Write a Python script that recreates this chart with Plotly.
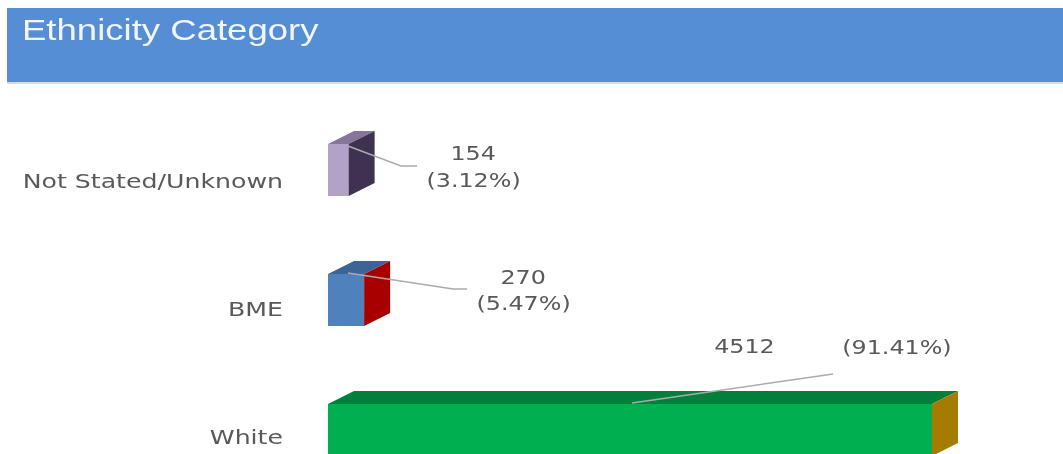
import plotly.graph_objects as go

# ---- data ----
categories = ["Not Stated/Unknown", "BME", "White"]
counts = [154, 270, 4512]
shares = ["(3.12%)", "(5.47%)", "(91.41%)"]

front_colors = ["#B3A2C7", "#4F81BD", "#00B050"]
top_colors = ["#85769A", "#3C6496", "#00803A"]
side_colors = ["#3F3151", "#A80000", "#A67C00"]

# ---- layout constants (pixels of the 1063x454 page) ----
W, H = 1063, 454
X0_PX = 328
PX_PER_UNIT = 604 / 4512
BAND_PX = 130
FIRST_CENTER_PX = 170
BAR_PX = 52
DEPTH_X_PX, DEPTH_Y_PX = 26, 13
TEXT = "#595959"
LEADER = "#ABABAB"
LABEL_FONT = dict(family="DejaVu Sans", size=20, color=TEXT)

depth_x = DEPTH_X_PX / PX_PER_UNIT
depth_y = DEPTH_Y_PX / BAND_PX
half = BAR_PX / BAND_PX / 2


def px(x):
    return x / W


def py(y):
    return 1 - y / H


positions = list(range(len(categories)))
fig = go.Figure()

fig.add_trace(go.Bar(
    y=positions, x=counts, base=0, orientation="h", width=BAR_PX / BAND_PX,
    marker=dict(color=front_colors, line=dict(width=0)), hoverinfo="skip",
))

for pos, val, top, side in zip(positions, counts, top_colors, side_colors):
    yt, yb = pos - half, pos + half
    fig.add_trace(go.Scatter(
        x=[0, val, val + depth_x, depth_x, 0],
        y=[yt, yt, yt - depth_y, yt - depth_y, yt],
        fill="toself", fillcolor=top, mode="lines", line=dict(width=0), hoverinfo="skip",
    ))
    fig.add_trace(go.Scatter(
        x=[val, val + depth_x, val + depth_x, val, val],
        y=[yt, yt - depth_y, yb - depth_y, yb, yt],
        fill="toself", fillcolor=side, mode="lines", line=dict(width=0), hoverinfo="skip",
    ))

leaders = [
    [(348, 146), (401, 166), (417, 166)],
    [(348, 273), (453, 289), (467, 289)],
    [(632, 403), (833, 374)],
]
shapes = [
    dict(type="rect", xref="paper", yref="paper", x0=px(7), x1=1, y0=py(84), y1=py(82),
         fillcolor="#D9D9D9", line=dict(width=0), layer="below"),
    dict(type="rect", xref="paper", yref="paper", x0=px(7), x1=1, y0=py(82), y1=py(8),
         fillcolor="#558ED5", line=dict(width=0), layer="below"),
]
for pts in leaders:
    path = "M " + " L ".join(f"{px(x):.5f},{py(y):.5f}" for x, y in pts)
    shapes.append(dict(type="path", xref="paper", yref="paper", path=path,
                       line=dict(color=LEADER, width=1.5), layer="above"))

label_spots = [
    (473, 153, str(counts[0])), (473, 180, shares[0]),
    (523, 277, str(counts[1])), (523, 303, shares[1]),
    (744, 346, str(counts[2])), (897, 347, shares[2]),
]
annotations = [
    dict(xref="paper", yref="paper", x=px(x), y=py(y), text=t, showarrow=False,
         xanchor="center", yanchor="middle", font=LABEL_FONT)
    for x, y, t in label_spots
]

# tick labels sit slightly below each bar's centre in the reference
tick_px = [181, 309, 437]
tickvals = [(y - FIRST_CENTER_PX) / BAND_PX for y in tick_px]

fig.update_layout(
    width=W, height=H, autosize=False,
    margin=dict(l=0, r=0, t=0, b=0, pad=0),
    paper_bgcolor="white", plot_bgcolor="rgba(0,0,0,0)",
    showlegend=False,
    title=dict(text="Ethnicity Category", x=px(22), xref="paper", xanchor="left",
               y=py(30), yref="paper", yanchor="middle",
               font=dict(family="Liberation Sans", size=29, color="#F2F6FC")),
    xaxis=dict(visible=False, range=[-X0_PX / PX_PER_UNIT, (W - X0_PX) / PX_PER_UNIT],
               domain=[0, 1], fixedrange=True),
    yaxis=dict(range=[(H - FIRST_CENTER_PX) / BAND_PX, -FIRST_CENTER_PX / BAND_PX],
               domain=[0, 1], anchor="free", position=px(283), side="left",
               tickvals=tickvals, ticktext=categories, tickfont=LABEL_FONT,
               showgrid=False, zeroline=False, showline=False, ticks="", fixedrange=True),
    shapes=shapes, annotations=annotations,
)

# The reference is a horizontally stretched, slightly soft screenshot:
# reset the page margin and widen the real text elements to the same degree.
post = """
document.body.style.margin = '0';
document.body.style.overflow = 'hidden';
function widen(sel, k) {
  document.querySelectorAll(sel).forEach(function (t) {
    t.setAttribute('textLength', t.getComputedTextLength() * k);
    t.setAttribute('lengthAdjust', 'spacingAndGlyphs');
  });
}
widen('.gtitle', 1.26);
widen('.ytick text', 1.26);
widen('.annotation-text', 1.19);
document.getElementById('{plot_id}').style.filter = 'blur(0.6px)';
"""

fig.write_html("out.html", config=dict(displayModeBar=False), post_script=post)
